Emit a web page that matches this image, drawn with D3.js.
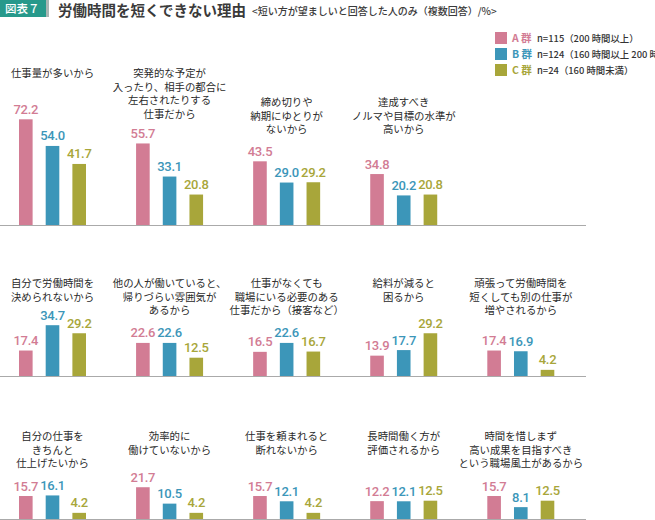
<!DOCTYPE html>
<html>
<head>
<meta charset="utf-8">
<script src="https://cdn.jsdelivr.net/npm/d3@7"></script>
<style>
  html, body { margin: 0; padding: 0; background: #fff; }
  svg { display: block; }
  text { font-family: "Noto Sans CJK JP", "Noto Sans", sans-serif; }
</style>
</head>
<body>
<svg id="chart" width="655" height="520"></svg>
<script>
// ---- data ----
const reasons = [
  "仕事量が多いから",
  "突発的な予定が\n入ったり、相手の都合に\n左右されたりする\n仕事だから",
  "締め切りや\n納期にゆとりが\nないから",
  "達成すべき\nノルマや目標の水準が\n高いから",
  "自分で労働時間を\n決められないから",
  "他の人が働いていると、\n帰りづらい雰囲気が\nあるから",
  "仕事がなくても\n職場にいる必要のある\n仕事だから（接客など）",
  "給料が減ると\n困るから",
  "頑張って労働時間を\n短くしても別の仕事が\n増やされるから",
  "自分の仕事を\nきちんと\n仕上げたいから",
  "効率的に\n働けていないから",
  "仕事を頼まれると\n断れないから",
  "長時間働く方が\n評価されるから",
  "時間を惜しまず\n高い成果を目指すべき\nという職場風土があるから"
];
const seriesA = [72.2, 55.7, 43.5, 34.8, 17.4, 22.6, 16.5, 13.9, 17.4, 15.7, 21.7, 15.7, 12.2, 15.7];
const seriesB = [54.0, 33.1, 29.0, 20.2, 34.7, 22.6, 22.6, 17.7, 16.9, 16.1, 10.5, 12.1, 12.1, 8.1];
const seriesC = [41.7, 20.8, 29.2, 20.8, 29.2, 12.5, 16.7, 29.2, 4.2, 4.2, 4.2, 4.2, 12.5, 12.5];
const groups = ["A", "B", "C"];
const groupLabels = ["A 群", "B 群", "C 群"];
const groupNotes = ["n=115（200 時間以上）", "n=124（160 時間以上 200 時間未満）", "n=24（160 時間未満）"];
const figLabel = "図表７";
const title = "労働時間を短くできない理由";
const subtitle = "<短い方が望ましいと回答した人のみ（複数回答）/%>";

// ---- layout ----
const colors = { A: "#d27c94", B: "#3c96b9", C: "#a8a63a" };
const rowBase = [225, 376, 519];
const rowPanels = [[0, 1, 2, 3], [4, 5, 6, 7, 8], [9, 10, 11, 12, 13]];
const titleTop = [[73, 73, 102, 102], [283, 283, 283, 283, 283], [436, 436, 436, 436, 436]];
const lineH = 13.8;

const svg = d3.select("#chart");

// header
svg.append("rect").attr("x", 0).attr("y", 0).attr("width", 46).attr("height", 17).attr("fill", "#27998b");
svg.append("rect").attr("x", 46).attr("y", 0).attr("width", 3).attr("height", 17).attr("fill", "#a9b5b3");
svg.append("text").attr("x", 5).attr("y", 13).attr("fill", "#fff")
  .attr("font-size", 11.5).attr("font-weight", 500).text(figLabel);
svg.append("text").attr("x", 58).attr("y", 16).attr("fill", "#3a3a3a")
  .attr("font-size", 14.5).attr("font-weight", 700).text(title);
svg.append("text").attr("x", 252).attr("y", 14.5).attr("fill", "#3a3a3a")
  .attr("font-size", 10).attr("font-weight", 500).text(subtitle);

// legend
const leg = svg.append("g");
groups.forEach((g, i) => {
  const y = 32 + i * 16;
  leg.append("rect").attr("x", 495).attr("y", y).attr("width", 12).attr("height", 12).attr("fill", colors[g]);
  leg.append("text").attr("x", 512).attr("y", y + 10).attr("fill", colors[g])
    .attr("font-size", 10.5).attr("font-weight", 700).text(groupLabels[i]);
  leg.append("text").attr("x", 537).attr("y", y + 9.5).attr("fill", "#333")
    .attr("font-size", 9.4).attr("font-weight", 500).text(groupNotes[i]);
});

// scales
const colScale = d3.scalePoint().domain(d3.range(5)).range([19, 487.3]);
const yScale = d3.scaleLinear().domain([0, 100]).range([0, 146.4]);
const values = [seriesA, seriesB, seriesC];

rowPanels.forEach((panels, r) => {
  const base = rowBase[r];
  svg.append("line").attr("x1", 0).attr("x2", 586).attr("y1", base + 0.5).attr("y2", base + 0.5)
    .attr("stroke", "#aaaaaa").attr("stroke-width", 1.2);
  panels.forEach((p, c) => {
    const x0 = colScale(c);
    const xb = d3.scaleBand().domain(groups).range([x0, x0 + 67]).paddingInner(0.49).paddingOuter(0);
    const g = svg.append("g");
    const data = groups.map((k, i) => ({ k, v: values[i][p] }));
    g.selectAll("rect").data(data).join("rect")
      .attr("x", d => xb(d.k)).attr("width", xb.bandwidth())
      .attr("y", d => base - yScale(d.v)).attr("height", d => yScale(d.v))
      .attr("fill", d => colors[d.k]);
    g.selectAll("text.val").data(data).join("text").attr("class", "val")
      .attr("x", d => xb(d.k) + xb.bandwidth() / 2)
      .attr("y", d => base - yScale(d.v) - 5.5)
      .attr("text-anchor", "middle").attr("fill", d => colors[d.k])
      .attr("font-weight", 500)
      .attr("font-size", 13).attr("letter-spacing", -0.3)
      .style("font-family", "Roboto, sans-serif")
      .text(d => d.v.toFixed(1));
    const cx = x0 + 33.5;
    const lines = reasons[p].split("\n");
    g.selectAll("text.ttl").data(lines).join("text").attr("class", "ttl")
      .attr("x", cx).attr("y", (d, i) => titleTop[r][c] + i * lineH + 3.8)
      .attr("text-anchor", "middle").attr("fill", "#2a2a2a")
      .attr("font-size", 10.4).text(d => d);
  });
});
</script>
</body>
</html>
